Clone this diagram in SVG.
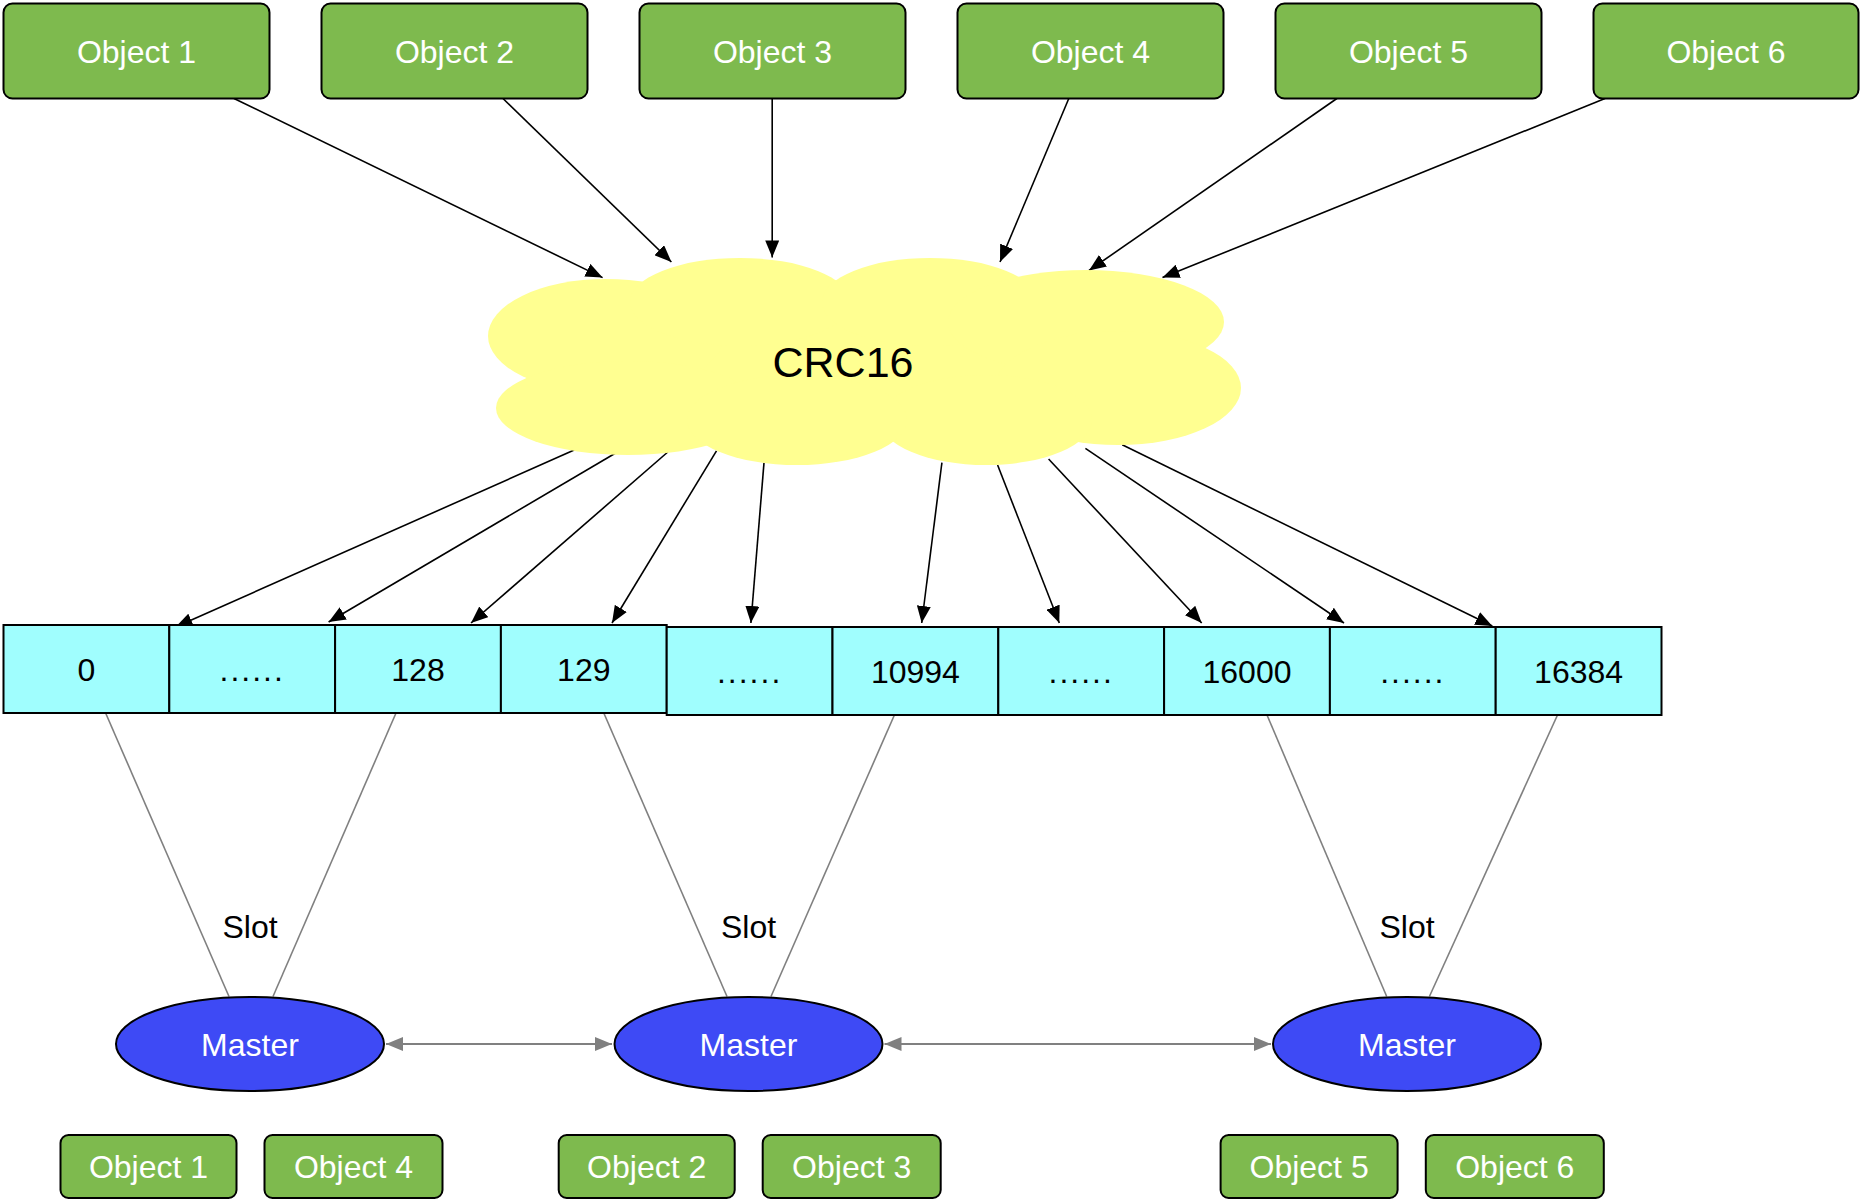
<svg xmlns="http://www.w3.org/2000/svg" width="1860" height="1200" viewBox="0 0 1860 1200">
<style>
text{font-family:"Liberation Sans",Arial,sans-serif;text-anchor:middle;dominant-baseline:central}
.obj rect{fill:#7EBA4E;stroke:#000;stroke-width:2}
.obj text{fill:#fff;font-size:32px}
.cell rect{fill:#A0FEFE;stroke:#000;stroke-width:2}
.cell text{fill:#000;font-size:32px}
.cell text.dots{letter-spacing:2px}
.master ellipse{fill:#3E4AF5;stroke:#000;stroke-width:2}
.master text{fill:#fff;font-size:32px}
.cloud ellipse{fill:#FFFF91}
.arr{stroke:#000;stroke-width:1.6;fill:none;marker-end:url(#ah)}
.gl{stroke:#808080;stroke-width:1.6;fill:none}
.bi{stroke:#808080;stroke-width:2;fill:none;marker-start:url(#gh);marker-end:url(#gh)}
.lbl{fill:#000;font-size:32px}
</style>
<defs>
<marker id="ah" markerUnits="userSpaceOnUse" markerWidth="18" markerHeight="14" refX="17" refY="7" orient="auto"><path d="M0,0 L17,7 L0,14 z" fill="#000"/></marker>
<marker id="gh" markerUnits="userSpaceOnUse" markerWidth="18" markerHeight="14" refX="17" refY="7" orient="auto-start-reverse"><path d="M0,0 L17,7 L0,14 z" fill="#808080"/></marker>
</defs>
<rect width="1860" height="1200" fill="#fff"/>

<g id="connectors">
<line class="arr" x1="234" y1="98.5" x2="602.6" y2="277.6"/>
<line class="arr" x1="503" y1="98.5" x2="671.4" y2="262"/>
<line class="arr" x1="772.2" y1="98.5" x2="772.2" y2="257.4"/>
<line class="arr" x1="1068.8" y1="98.5" x2="1000" y2="262"/>
<line class="arr" x1="1336.9" y1="98.5" x2="1089" y2="270.5"/>
<line class="arr" x1="1605" y1="98.5" x2="1162.5" y2="277.6"/>
<line class="arr" x1="575.3" y1="449.6" x2="175.6" y2="627"/>
<line class="arr" x1="615.7" y1="453" x2="328.6" y2="622"/>
<line class="arr" x1="667.8" y1="452" x2="471" y2="623"/>
<line class="arr" x1="716.5" y1="450.8" x2="612" y2="623"/>
<line class="arr" x1="764" y1="462.6" x2="750.9" y2="623"/>
<line class="arr" x1="941.9" y1="462.6" x2="921.7" y2="623"/>
<line class="arr" x1="997.6" y1="465" x2="1059.3" y2="623"/>
<line class="arr" x1="1048.6" y1="459" x2="1201.7" y2="623"/>
<line class="arr" x1="1085.4" y1="448.4" x2="1344" y2="623"/>
<line class="arr" x1="1122.2" y1="444.8" x2="1492.3" y2="626"/>
<line class="gl" x1="105.6" y1="713" x2="229" y2="996.5"/>
<line class="gl" x1="396" y1="713" x2="273" y2="996.5"/>
<line class="gl" x1="603.8" y1="713" x2="727" y2="996.5"/>
<line class="gl" x1="894.4" y1="715" x2="771" y2="996.5"/>
<line class="gl" x1="1267" y1="715" x2="1386.7" y2="996.5"/>
<line class="gl" x1="1557.5" y1="715" x2="1429.4" y2="996.5"/>
<line class="bi" x1="386" y1="1044" x2="612" y2="1044"/>
<line class="bi" x1="884.5" y1="1044" x2="1271" y2="1044"/>
</g>

<g id="obj-top-1" class="obj"><rect x="3.5" y="3.5" width="266" height="95" rx="9"/><text x="136.5" y="52">Object 1</text></g>
<g id="obj-top-2" class="obj"><rect x="321.5" y="3.5" width="266" height="95" rx="9"/><text x="454.5" y="52">Object 2</text></g>
<g id="obj-top-3" class="obj"><rect x="639.5" y="3.5" width="266" height="95" rx="9"/><text x="772.5" y="52">Object 3</text></g>
<g id="obj-top-4" class="obj"><rect x="957.5" y="3.5" width="266" height="95" rx="9"/><text x="1090.5" y="52">Object 4</text></g>
<g id="obj-top-5" class="obj"><rect x="1275.5" y="3.5" width="266" height="95" rx="9"/><text x="1408.5" y="52">Object 5</text></g>
<g id="obj-top-6" class="obj"><rect x="1593.5" y="3.5" width="265" height="95" rx="9"/><text x="1726" y="52">Object 6</text></g>

<g id="crc16" class="cloud">
<ellipse cx="860" cy="360" rx="300" ry="80"/>
<ellipse cx="606" cy="336" rx="118" ry="57"/>
<ellipse cx="628" cy="408" rx="132" ry="47"/>
<ellipse cx="740" cy="302" rx="110" ry="44"/>
<ellipse cx="930" cy="302" rx="108" ry="44"/>
<ellipse cx="1086" cy="322" rx="138" ry="52"/>
<ellipse cx="1118" cy="388" rx="123" ry="57"/>
<ellipse cx="986" cy="420" rx="106" ry="45"/>
<ellipse cx="797" cy="420" rx="110" ry="45"/>
<text x="843" y="362" style="font-size:43px;fill:#000">CRC16</text>
</g>

<g id="cell-0" class="cell"><rect x="3.5" y="625" width="165.8" height="88"/><text x="86.4" y="670">0</text></g>
<g id="cell-dots-1" class="cell"><rect x="169.3" y="625" width="165.8" height="88"/><text class="dots" x="252.2" y="670">......</text></g>
<g id="cell-128" class="cell"><rect x="335.1" y="625" width="165.8" height="88"/><text x="418" y="670">128</text></g>
<g id="cell-129" class="cell"><rect x="500.9" y="625" width="165.8" height="88"/><text x="583.8" y="670">129</text></g>
<g id="cell-dots-2" class="cell"><rect x="666.7" y="627" width="165.8" height="88"/><text class="dots" x="749.6" y="672">......</text></g>
<g id="cell-10994" class="cell"><rect x="832.5" y="627" width="165.8" height="88"/><text x="915.4" y="672">10994</text></g>
<g id="cell-dots-3" class="cell"><rect x="998.3" y="627" width="165.8" height="88"/><text class="dots" x="1081.2" y="672">......</text></g>
<g id="cell-16000" class="cell"><rect x="1164.1" y="627" width="165.8" height="88"/><text x="1247" y="672">16000</text></g>
<g id="cell-dots-4" class="cell"><rect x="1329.9" y="627" width="165.8" height="88"/><text class="dots" x="1412.8" y="672">......</text></g>
<g id="cell-16384" class="cell"><rect x="1495.7" y="627" width="165.8" height="88"/><text x="1578.6" y="672">16384</text></g>

<g id="slot-1"><text class="lbl" x="250" y="927">Slot</text></g>
<g id="slot-2"><text class="lbl" x="748.5" y="927">Slot</text></g>
<g id="slot-3"><text class="lbl" x="1407" y="927">Slot</text></g>

<g id="master-1" class="master"><ellipse cx="250" cy="1044" rx="134" ry="47"/><text x="250" y="1045">Master</text></g>
<g id="master-2" class="master"><ellipse cx="748.5" cy="1044" rx="134" ry="47"/><text x="748.5" y="1045">Master</text></g>
<g id="master-3" class="master"><ellipse cx="1407" cy="1044" rx="134" ry="47"/><text x="1407" y="1045">Master</text></g>

<g id="obj-bot-1" class="obj"><rect x="60.5" y="1135" width="176" height="63" rx="8"/><text x="148.5" y="1167">Object 1</text></g>
<g id="obj-bot-4" class="obj"><rect x="264.5" y="1135" width="178" height="63" rx="8"/><text x="353.5" y="1167">Object 4</text></g>
<g id="obj-bot-2" class="obj"><rect x="558.7" y="1135" width="176" height="63" rx="8"/><text x="646.7" y="1167">Object 2</text></g>
<g id="obj-bot-3" class="obj"><rect x="762.7" y="1135" width="178" height="63" rx="8"/><text x="851.7" y="1167">Object 3</text></g>
<g id="obj-bot-5" class="obj"><rect x="1220.6" y="1135" width="177" height="63" rx="8"/><text x="1309.1" y="1167">Object 5</text></g>
<g id="obj-bot-6" class="obj"><rect x="1425.8" y="1135" width="178" height="63" rx="8"/><text x="1514.8" y="1167">Object 6</text></g>
</svg>
